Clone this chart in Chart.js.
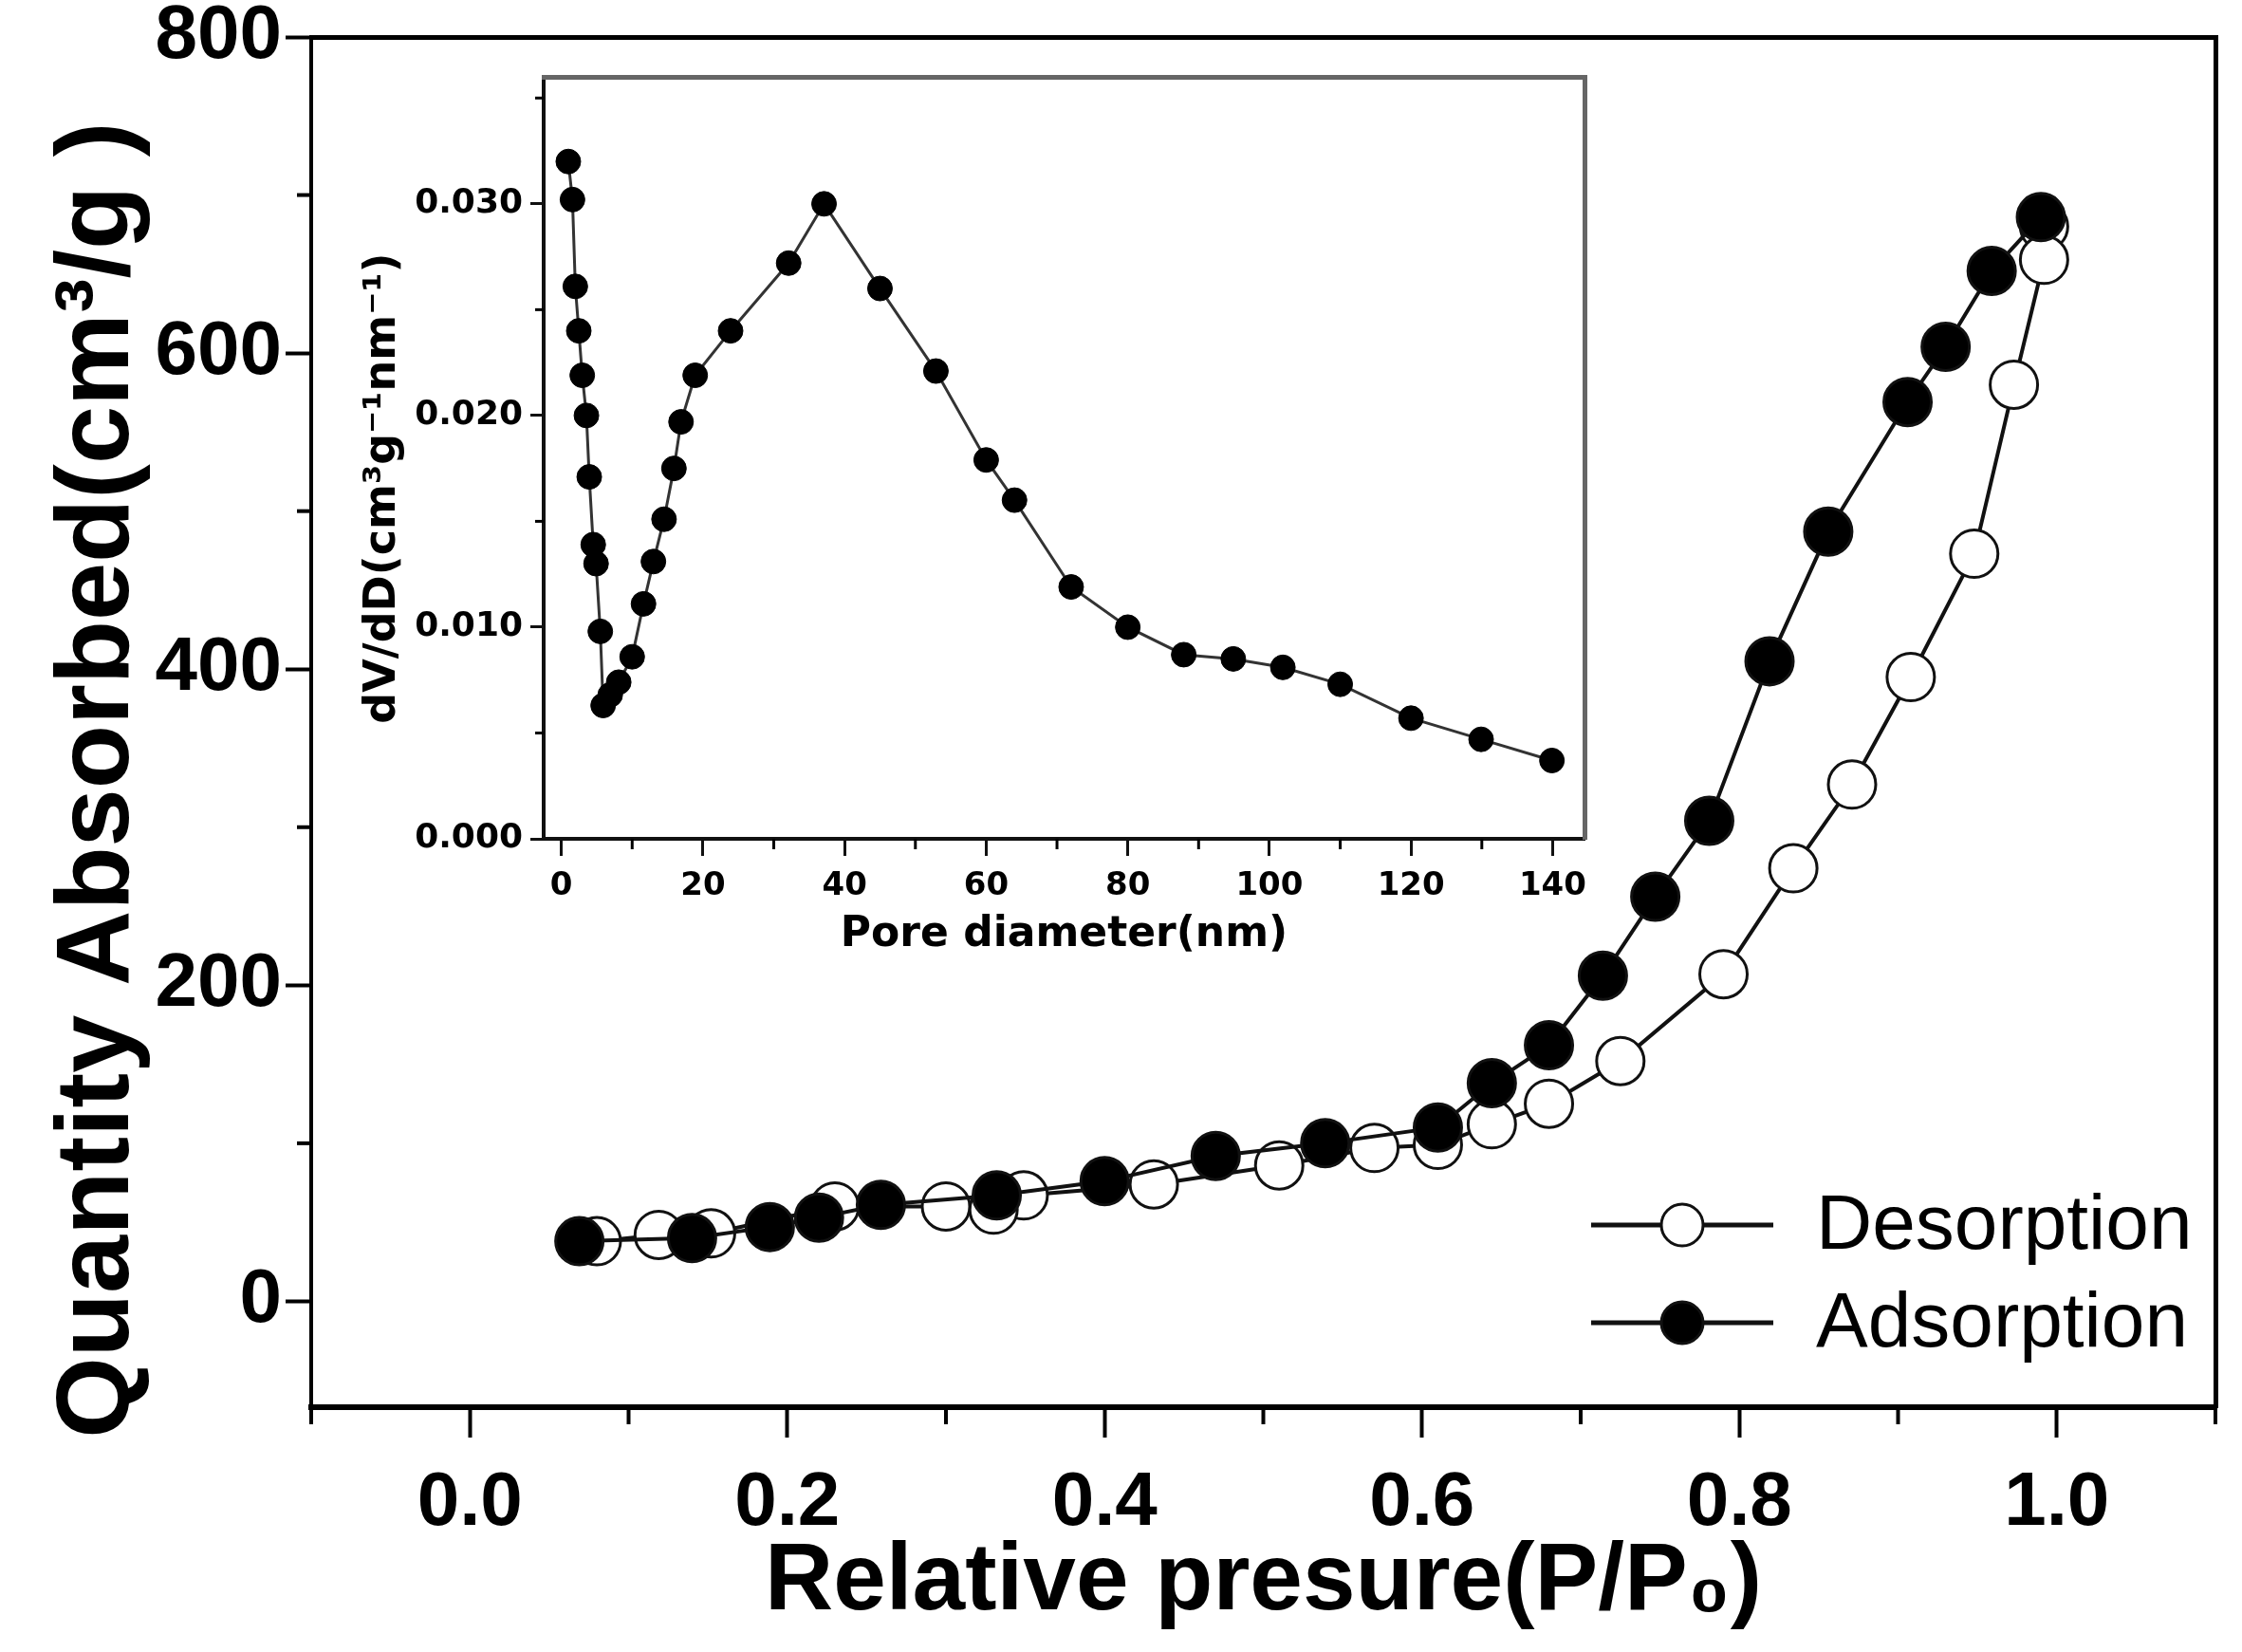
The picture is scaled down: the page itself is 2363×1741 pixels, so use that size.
<!DOCTYPE html>
<html>
<head>
<meta charset="utf-8">
<script src="https://cdn.jsdelivr.net/npm/chart.js@4.4.1/dist/chart.umd.min.js"></script>
<style>
  html, body { margin: 0; padding: 0; background: #fff; }
  #wrap { position: relative; width: 2363px; height: 1741px; }
  #main { position: absolute; left: 0; top: 0; }
  #inset { position: absolute; left: 340px; top: 50px; }
</style>
</head>
<body>
<div id="wrap">
  <canvas id="main" width="2363" height="1741"></canvas>
  <canvas id="inset" width="1380" height="980"></canvas>
</div>
<script>
// isotherm, main plot
const adsorptionP = [0.069, 0.140, 0.189, 0.220, 0.259, 0.332, 0.400, 0.470, 0.539, 0.610, 0.644,
  0.680, 0.714, 0.747, 0.781, 0.819, 0.856, 0.906, 0.930, 0.959, 0.990];
const adsorptionQ = [38, 40, 47, 53, 61, 67, 76, 92, 100, 110, 138,
  162, 206, 256, 304, 405, 487, 569, 604, 652, 686];

const desorptionP = [0.992, 0.992, 0.973, 0.948, 0.908, 0.871, 0.834, 0.790, 0.725, 0.680, 0.644,
  0.610, 0.570, 0.510, 0.431, 0.349, 0.330, 0.300, 0.230, 0.152, 0.119, 0.080];
const desorptionQ = [680, 659, 580, 473, 395, 327, 274, 207, 152, 125, 112,
  99, 97, 86, 74, 67, 58, 60, 60, 43, 42, 38];

const mainXTicks = [0, 0.2, 0.4, 0.6, 0.8, 1.0];
const mainXMinor = [-0.1, 0.1, 0.3, 0.5, 0.7, 0.9, 1.1];
const mainYTicks = [0, 200, 400, 600, 800];
const mainYMinor = [100, 300, 500, 700];

// pore size distribution, inset
const poreDiameter = [0.98, 1.57, 1.97, 2.46, 2.95, 3.54, 3.94, 4.5, 4.9, 5.5, 5.9, 6.9, 8.1,
  10.0, 11.6, 13.0, 14.5, 15.9, 16.9, 18.9, 23.9, 32.1, 37.1, 45.0, 52.9, 60.0, 64.0,
  72.0, 80.0, 87.9, 94.9, 101.9, 110.0, 120.0, 129.9, 139.9];
const dVdD = [0.0320, 0.0302, 0.0261, 0.0240, 0.0219, 0.0200, 0.0171, 0.0139, 0.0130, 0.0098, 0.0063, 0.0068, 0.0074,
  0.0086, 0.0111, 0.0131, 0.0151, 0.0175, 0.0197, 0.0219, 0.0240, 0.0272, 0.0300, 0.0260, 0.0221, 0.0179, 0.0160,
  0.0119, 0.0100, 0.0087, 0.0085, 0.0081, 0.0073, 0.0057, 0.0047, 0.0037];

const insetXTicks = [0, 20, 40, 60, 80, 100, 120, 140];
const insetXMinor = [10, 30, 50, 70, 90, 110, 130];
const insetYTicks = [0, 0.01, 0.02, 0.03];
const insetYMinor = [0.005, 0.015, 0.025, 0.035];

const toPoints = (xs, ys) => xs.map((x, i) => ({ x: x, y: ys[i] }));
const fixTicks = (values) => (axis) => { axis.ticks = values.map(v => ({ value: v })); };

function fitTo(size) {
  return (scale) => {
    if (scale.isHorizontal()) scale.height = size; else scale.width = size;
    scale.paddingTop = 0; scale.paddingBottom = 0;
    scale.paddingLeft = 0; scale.paddingRight = 0;
  };
}

// shorter minor ticks, placed through the scales
function minorTicksPlugin(spec) {
  return {
    id: 'minorTicks',
    afterDraw(chart) {
      const ctx = chart.ctx;
      ctx.save();
      ctx.strokeStyle = '#000';
      Object.keys(spec).forEach(id => {
        const scale = chart.scales[id];
        const s = spec[id];
        ctx.lineWidth = s.width;
        s.values.forEach(v => {
          const p = scale.getPixelForValue(v);
          ctx.beginPath();
          if (scale.isHorizontal()) {
            ctx.moveTo(p, scale.top);
            ctx.lineTo(p, scale.top + s.length);
          } else {
            ctx.moveTo(scale.right - s.length, p);
            ctx.lineTo(scale.right, p);
          }
          ctx.stroke();
        });
      });
      ctx.restore();
    }
  };
}

const legendPlugin = {
  id: 'lineLegend',
  afterDraw(chart) {
    const ctx = chart.ctx;
    const order = [1, 0];
    const rows = [1291, 1394];
    ctx.save();
    order.forEach((di, k) => {
      const ds = chart.data.datasets[di];
      const y = rows[k];
      ctx.strokeStyle = ds.borderColor;
      ctx.lineWidth = 5;
      ctx.beginPath();
      ctx.moveTo(1677, y);
      ctx.lineTo(1869, y);
      ctx.stroke();
      ctx.beginPath();
      ctx.arc(1773, y, 22, 0, Math.PI * 2);
      ctx.fillStyle = ds.pointBackgroundColor;
      ctx.fill();
      ctx.lineWidth = 3;
      ctx.strokeStyle = ds.pointBorderColor;
      ctx.stroke();
      ctx.fillStyle = '#000';
      ctx.font = '82px "Liberation Sans", Arial, sans-serif';
      ctx.textBaseline = 'middle';
      ctx.textAlign = 'left';
      ctx.fillText(ds.label, 1914, y + 2);
    });
    ctx.restore();
  }
};

Chart.defaults.color = '#000';

const mainFont = (size, weight) => ({ family: '"Liberation Sans", Arial, sans-serif', size: size, weight: weight || 'bold' });
const insetFont = (size) => ({ family: '"DejaVu Sans", sans-serif', size: size, weight: 'bold' });

new Chart(document.getElementById('main'), {
  type: 'line',
  data: {
    datasets: [
      {
        label: 'Adsorption',
        data: toPoints(adsorptionP, adsorptionQ),
        borderColor: '#111',
        borderWidth: 4,
        pointRadius: 25,
        pointBorderWidth: 3,
        pointBackgroundColor: '#000',
        pointBorderColor: '#111',
        tension: 0,
        fill: false
      },
      {
        label: 'Desorption',
        data: toPoints(desorptionP, desorptionQ),
        borderColor: '#111',
        borderWidth: 4,
        pointRadius: 25,
        pointBorderWidth: 3,
        pointBackgroundColor: '#fff',
        pointBorderColor: '#111',
        tension: 0,
        fill: false
      }
    ]
  },
  options: {
    responsive: false,
    animation: false,
    devicePixelRatio: 1,
    layout: { padding: 0 },
    plugins: { legend: { display: false }, tooltip: { enabled: false } },
    scales: {
      x: {
        type: 'linear',
        position: 'bottom',
        min: -0.1,
        max: 1.1,
        afterBuildTicks: fixTicks(mainXTicks),
        afterFit: fitTo(258),
        ticks: { callback: v => v.toFixed(1), font: mainFont(80), padding: 22, maxRotation: 0, autoSkip: false },
        grid: { drawOnChartArea: false, tickLength: 32, tickWidth: 4, tickColor: '#000' },
        border: { width: 6, color: '#000' },
        title: { display: true, text: 'Relative presure(P/P\u2080)', font: mainFont(100), padding: { top: 0, bottom: 13 } }
      },
      y: {
        type: 'linear',
        position: 'left',
        min: -67,
        max: 800,
        afterBuildTicks: fixTicks(mainYTicks),
        afterFit: fitTo(328),
        ticks: { font: mainFont(80), padding: 4, autoSkip: false },
        grid: { drawOnChartArea: false, tickLength: 27, tickWidth: 4, tickColor: '#000' },
        border: { width: 4, color: '#000' },
        title: { display: true, text: 'Quantity Absorbed(cm\u00b3/g )    ', font: mainFont(110), padding: { top: 39, bottom: 0 } }
      },
      x2: {
        type: 'linear',
        position: 'top',
        min: 0,
        max: 1,
        afterFit: fitTo(39),
        ticks: { display: false },
        grid: { display: false },
        border: { width: 5, color: '#000' }
      },
      y2: {
        type: 'linear',
        position: 'right',
        min: 0,
        max: 1,
        afterFit: fitTo(13),
        ticks: { display: false },
        grid: { display: false },
        border: { width: 5, color: '#000' }
      }
    }
  },
  plugins: [
    minorTicksPlugin({ x: { values: mainXMinor, length: 18, width: 4 }, y: { values: mainYMinor, length: 15, width: 4 } }),
    legendPlugin
  ]
});

new Chart(document.getElementById('inset'), {
  type: 'line',
  data: {
    datasets: [{
      label: 'dV/dD',
      data: toPoints(poreDiameter, dVdD),
      borderColor: '#333',
      borderWidth: 3,
      pointRadius: 13,
      pointBorderWidth: 1,
      pointBackgroundColor: '#000',
      pointBorderColor: '#000',
      tension: 0,
      fill: false
    }]
  },
  options: {
    responsive: false,
    animation: false,
    devicePixelRatio: 1,
    layout: { padding: 0 },
    plugins: { legend: { display: false }, tooltip: { enabled: false } },
    scales: {
      x: {
        type: 'linear',
        position: 'bottom',
        min: -2.5,
        max: 144.5,
        afterBuildTicks: fixTicks(insetXTicks),
        afterFit: fitTo(146),
        ticks: { callback: v => String(v), font: insetFont(34), padding: 12, maxRotation: 0, autoSkip: false },
        grid: { drawOnChartArea: false, tickLength: 18, tickWidth: 3, tickColor: '#111' },
        border: { width: 4, color: '#111' },
        title: { display: true, text: 'Pore diameter(nm)', font: insetFont(44), padding: { top: 0, bottom: 18 } }
      },
      y: {
        type: 'linear',
        position: 'left',
        min: 0,
        max: 0.036,
        afterBuildTicks: fixTicks(insetYTicks),
        afterFit: fitTo(233),
        ticks: { callback: v => v.toFixed(3), font: insetFont(36), padding: 8, autoSkip: false },
        grid: { drawOnChartArea: false, tickLength: 14, tickWidth: 3, tickColor: '#111' },
        border: { width: 4, color: '#111' },
        title: { display: true, text: 'dV/dD(cm\u00b3g\u207b\u00b9nm\u207b\u00b9)    ', font: insetFont(46), padding: { top: 36, bottom: 0 } }
      },
      x2: {
        type: 'linear',
        position: 'top',
        min: 0,
        max: 1,
        afterFit: fitTo(31),
        ticks: { display: false },
        grid: { display: false },
        border: { width: 5, color: '#666' }
      },
      y2: {
        type: 'linear',
        position: 'right',
        min: 0,
        max: 1,
        afterFit: fitTo(50),
        ticks: { display: false },
        grid: { display: false },
        border: { width: 5, color: '#666' }
      }
    }
  },
  plugins: [
    minorTicksPlugin({ x: { values: insetXMinor, length: 11, width: 3 }, y: { values: insetYMinor, length: 9, width: 3 } })
  ]
});
</script>
</body>
</html>
